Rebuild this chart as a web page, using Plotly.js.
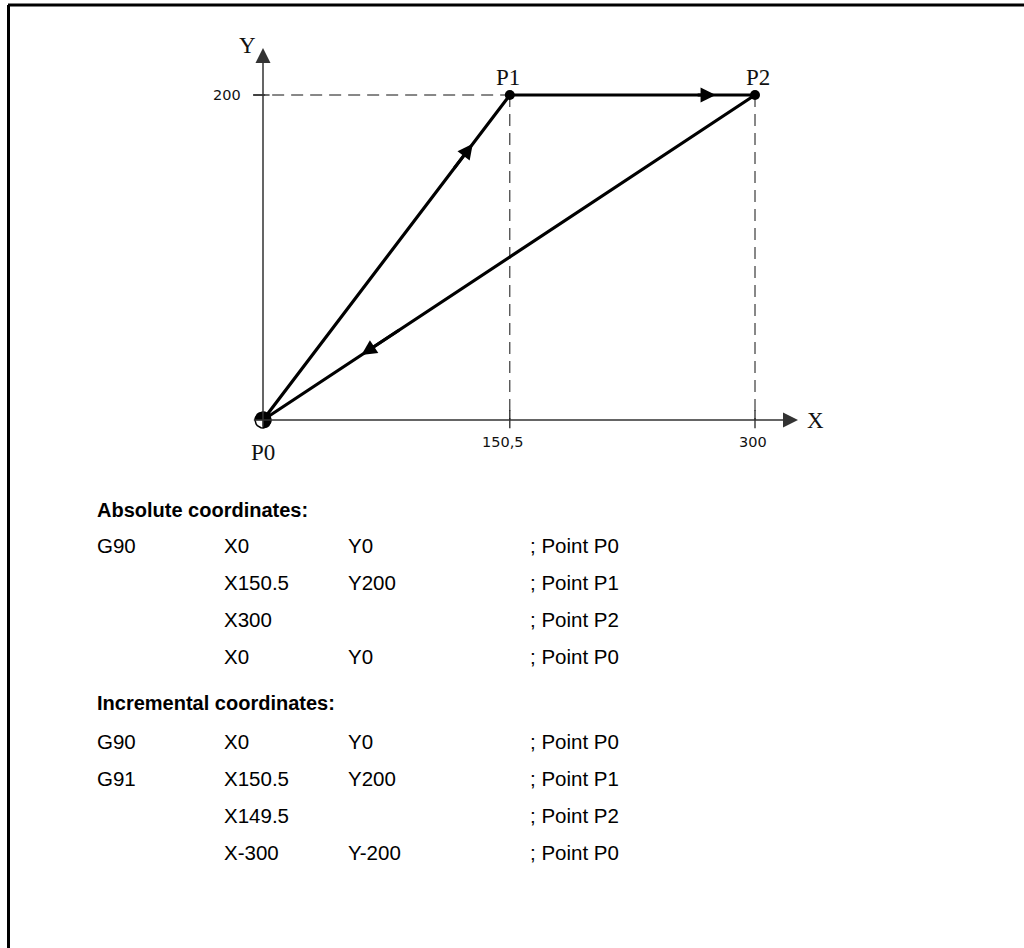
<!DOCTYPE html>
<html>
<head>
<meta charset="utf-8">
<script src="https://cdn.plot.ly/plotly-3.0.1.min.js"></script>
<style>
  html, body { margin: 0; padding: 0; background: #fff; }
  #chart { width: 1024px; height: 948px; }
</style>
</head>
<body>
<div id="chart"></div>
<script>
// ---------- data ----------
const pointNames = ['P0', 'P1', 'P2'];
const pointX = [0, 150.5, 300];
const pointY = [0, 200, 200];
const pathOrder = [0, 1, 2, 0];          // P0 -> P1 -> P2 -> P0
const arrowFrac = [0.85, 0.84, 0.80];     // position of arrowhead along each segment

const tickXVals = [150.5, 300];
const tickXLabels = ['150,5', '300'];
const tickYVals = [200];
const tickYLabels = ['200'];

const absHeading = 'Absolute coordinates:';
const absCmd  = ['G90', '', '', ''];
const absX    = ['X0', 'X150.5', 'X300', 'X0'];
const absY    = ['Y0', 'Y200', '', 'Y0'];
const absNote = ['; Point P0', '; Point P1', '; Point P2', '; Point P0'];

const incHeading = 'Incremental coordinates:';
const incCmd  = ['G90', 'G91', '', ''];
const incX    = ['X0', 'X150.5', 'X149.5', 'X-300'];
const incY    = ['Y0', 'Y200', '', 'Y-200'];
const incNote = ['; Point P0', '; Point P1', '; Point P2', '; Point P0'];

// ---------- layout geometry ----------
const W = 1024, H = 948;
const originPx = [263, 420];
const pxPerX = 1.64, pxPerY = 1.625;
const xRange = [(0 - originPx[0]) / pxPerX, (W - originPx[0]) / pxPerX];
const yRange = [(originPx[1] - H) / pxPerY, (originPx[1] - 0) / pxPerY];
const axisXEnd = (798 - originPx[0]) / pxPerX;
const axisYEnd = (originPx[1] - 48) / pxPerY;
const ext = 5; // small overshoot of axes beyond origin (data units)

const labelFont = { family: 'Liberation Serif, Times New Roman, serif', size: 23, color: '#111' };
const tickFont = { family: 'DejaVu Sans, sans-serif', size: 14.5, color: '#111' };
const textFont = { family: 'Liberation Sans, Arial, sans-serif', size: 20.5, color: '#000' };
const headFont = { family: 'Liberation Sans, Arial, sans-serif', size: 20, color: '#000', weight: 'bold' };

const traces = [];
// main path
traces.push({
  type: 'scatter', mode: 'lines',
  x: pathOrder.map(i => pointX[i]), y: pathOrder.map(i => pointY[i]),
  line: { color: '#000', width: 3.2 }, hoverinfo: 'skip'
});
// points P1, P2
traces.push({
  type: 'scatter', mode: 'markers',
  x: pointX.slice(1), y: pointY.slice(1),
  marker: { color: '#000', size: 10 }, hoverinfo: 'skip'
});
// P0 origin symbol (quartered circle)
const r = 8;
function arc(a0, a1, withCenter) {
  const xs = [], ys = [];
  if (withCenter) { xs.push(pointX[0]); ys.push(pointY[0]); }
  for (let k = 0; k <= 24; k++) {
    const a = (a0 + (a1 - a0) * k / 24) * Math.PI / 180;
    xs.push(pointX[0] + r * Math.cos(a) / pxPerX);
    ys.push(pointY[0] + r * Math.sin(a) / pxPerY);
  }
  if (withCenter) { xs.push(pointX[0]); ys.push(pointY[0]); }
  return { xs, ys };
}
const full = arc(0, 360, false);
traces.push({ type: 'scatter', mode: 'lines', x: full.xs, y: full.ys, fill: 'toself',
  fillcolor: '#fff', line: { color: '#000', width: 1.5 }, hoverinfo: 'skip' });
[[90, 180], [270, 360], [0, 90]].forEach(([a0, a1]) => {
  const w = arc(a0, a1, true);
  traces.push({ type: 'scatter', mode: 'lines', x: w.xs, y: w.ys, fill: 'toself',
    fillcolor: '#000', line: { color: '#000', width: 0.5 }, hoverinfo: 'skip' });
});

// ---------- shapes ----------
const shapes = [];
// frame (top and left)
shapes.push({ type: 'line', xref: 'paper', yref: 'paper', x0: 8 / W, x1: 1, y0: 1 - 5 / H, y1: 1 - 5 / H, line: { color: '#000', width: 3 } });
shapes.push({ type: 'line', xref: 'paper', yref: 'paper', x0: 8.5 / W, x1: 8.5 / W, y0: 0, y1: 1 - 5 / H, line: { color: '#000', width: 3 } });
// dashed guides
tickYVals.forEach(v => {
  shapes.push({ type: 'line', xref: 'x', yref: 'y', x0: -6, x1: pointX[1], y0: v, y1: v, layer: 'below',
    line: { color: '#111', width: 1, dash: '12px,7px' } });
  shapes.push({ type: 'line', xref: 'x', yref: 'y', x0: -6, x1: 4, y0: v, y1: v, layer: 'below',
    line: { color: '#111', width: 1.2 } });
});
tickXVals.forEach(v => {
  shapes.push({ type: 'line', xref: 'x', yref: 'y', x0: v, x1: v, y0: 200, y1: 0, layer: 'below',
    line: { color: '#111', width: 1, dash: '12px,7px' } });
  shapes.push({ type: 'line', xref: 'x', yref: 'y', x0: v, x1: v, y0: 6, y1: -5, layer: 'below',
    line: { color: '#111', width: 1.2 } });
});

// ---------- annotations ----------
const ann = [];
// axes with arrowheads
ann.push({ xref: 'x', yref: 'y', axref: 'x', ayref: 'y', x: axisXEnd, y: 0, ax: -ext * 1.3, ay: 0,
  text: '', showarrow: true, arrowhead: 2, arrowsize: 2, arrowwidth: 1.5, arrowcolor: '#333' });
ann.push({ xref: 'x', yref: 'y', axref: 'x', ayref: 'y', x: 0, y: axisYEnd, ax: 0, ay: -ext,
  text: '', showarrow: true, arrowhead: 2, arrowsize: 2, arrowwidth: 1.5, arrowcolor: '#333' });
ann.push({ xref: 'x', yref: 'y', x: axisXEnd, y: 0, xshift: 17, text: 'X', showarrow: false,
  xanchor: 'center', yanchor: 'middle', font: labelFont });
ann.push({ xref: 'x', yref: 'y', x: 0, y: axisYEnd, xshift: -16, yshift: 3, text: 'Y', showarrow: false,
  xanchor: 'center', yanchor: 'middle', font: labelFont });
// path arrowheads
for (let s = 0; s < pathOrder.length - 1; s++) {
  const a = pathOrder[s], b = pathOrder[s + 1];
  const dx = pointX[b] - pointX[a], dy = pointY[b] - pointY[a];
  const f = arrowFrac[s];
  const tx = pointX[a] + f * dx, ty = pointY[a] + f * dy;
  ann.push({ xref: 'x', yref: 'y', axref: 'x', ayref: 'y', x: tx, y: ty,
    ax: tx - 0.08 * dx, ay: ty - 0.08 * dy, text: '', showarrow: true,
    arrowhead: 2, arrowsize: 1.05, arrowwidth: 2.9, arrowcolor: '#000' });
}
// point labels
const labelShift = [[0, -32], [-2, 18], [3, 18]];
pointNames.forEach((n, i) => {
  ann.push({ xref: 'x', yref: 'y', x: pointX[i], y: pointY[i], xshift: labelShift[i][0], yshift: labelShift[i][1],
    text: n, showarrow: false, xanchor: 'center', yanchor: 'middle', font: labelFont });
});
// tick labels
const xTickShift = [-7, -2];
tickXVals.forEach((v, i) => {
  ann.push({ xref: 'x', yref: 'y', x: v, y: 0, xshift: xTickShift[i], yshift: -22,
    text: tickXLabels[i], showarrow: false, xanchor: 'center', yanchor: 'middle', font: tickFont });
});
tickYVals.forEach((v, i) => {
  ann.push({ xref: 'x', yref: 'y', x: 0, y: v, xshift: -36, yshift: 0,
    text: tickYLabels[i], showarrow: false, xanchor: 'center', yanchor: 'middle', font: tickFont });
});

// table text
const colLeft = [95, 222, 346, 528];
function textAt(px, py, txt, font) {
  if (!txt) return;
  ann.push({ xref: 'paper', yref: 'paper', x: px / W, y: 1 - py / H, text: txt, showarrow: false,
    xanchor: 'left', yanchor: 'middle', font: font });
}
textAt(colLeft[0], 510, absHeading, headFont);
const absRowY = [545, 582, 619, 656];
absRowY.forEach((py, i) => {
  textAt(colLeft[0], py, absCmd[i], textFont);
  textAt(colLeft[1], py, absX[i], textFont);
  textAt(colLeft[2], py, absY[i], textFont);
  textAt(colLeft[3], py, absNote[i], textFont);
});
textAt(colLeft[0], 703, incHeading, headFont);
const incRowY = [741, 778, 815, 852];
incRowY.forEach((py, i) => {
  textAt(colLeft[0], py, incCmd[i], textFont);
  textAt(colLeft[1], py, incX[i], textFont);
  textAt(colLeft[2], py, incY[i], textFont);
  textAt(colLeft[3], py, incNote[i], textFont);
});

const layout = {
  width: W, height: H,
  margin: { l: 0, r: 0, t: 0, b: 0, pad: 0 },
  paper_bgcolor: '#fff', plot_bgcolor: '#fff',
  showlegend: false,
  xaxis: { range: xRange, visible: false, fixedrange: true },
  yaxis: { range: yRange, visible: false, fixedrange: true },
  shapes: shapes,
  annotations: ann
};

Plotly.newPlot('chart', traces, layout, { staticPlot: true, displayModeBar: false });
</script>
</body>
</html>
